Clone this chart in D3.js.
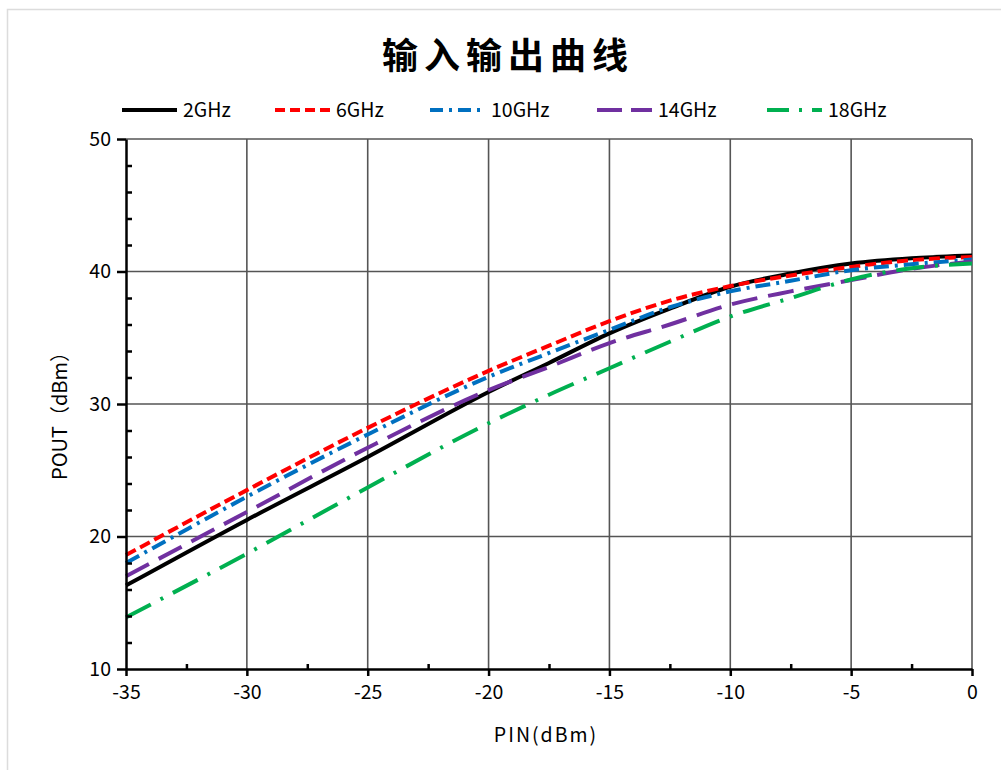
<!DOCTYPE html>
<html><head><meta charset="utf-8">
<script src="https://cdn.jsdelivr.net/npm/d3@7"></script>
<style>body{margin:0;background:#fff;} svg{display:block;}</style>
</head><body>
<svg id="c" width="1001" height="770"></svg>
<script>
const pin  = [-35,-30,-25,-20,-17.5,-15,-12.5,-10,-7.5,-5,-2.5,0];
const g2   = [16.3,21.25,26.0,30.9,33.1,35.33,37.2,38.85,39.85,40.6,41.0,41.2];
const g6   = [18.6,23.5,28.2,32.5,34.4,36.25,37.8,38.9,39.7,40.35,40.85,41.1];
const g10  = [18.0,23.0,27.7,32.05,33.85,35.6,37.3,38.5,39.3,40.1,40.55,40.9];
const g14  = [17.0,21.85,26.7,31.05,32.8,34.6,36.0,37.5,38.5,39.35,40.2,40.75];
const g18  = [13.9,18.7,23.7,28.55,30.7,32.7,34.7,36.6,38.0,39.4,40.25,40.6];
const seriesNames = ["2GHz","6GHz","10GHz","14GHz","18GHz"];
const seriesVals = [g2,g6,g10,g14,g18];
const xTicks = [-35,-30,-25,-20,-15,-10,-5,0];
const yTicks = [10,20,30,40,50];
const title = "输入输出曲线";
const xTitle = "PIN(dBm)";
const yTitle = "POUT（dBm）";

const colors = ["#000000","#ff0000","#0070c0","#7030a0","#00b050"];
const dashes = [null,"11,5","15,6,3,6","26,11","28,11,3,11"];
const legDashes = [null,"10,5","13,6,3,6","25,9","22,10,3,10"];

const svg = d3.select("#c");
const FONT = "'Noto Sans CJK SC','Noto Sans',sans-serif";
svg.append("rect").attr("x",0).attr("y",0).attr("width",1001).attr("height",770).attr("fill","#fff");
svg.append("rect").attr("x",7.5).attr("y",9.5).attr("width",1200).attr("height",1000)
  .attr("fill","none").attr("stroke","#dcdcdc").attr("stroke-width",1.5);

const L=126, R=972, T=139, B=669;
const x = d3.scaleLinear().domain([-35,0]).range([L,R]);
const y = d3.scaleLinear().domain([10,50]).range([B,T]);

// grid
const g = svg.append("g");
g.selectAll("line.vg").data(xTicks.slice(1)).join("line")
  .attr("x1",d=>x(d)).attr("x2",d=>x(d)).attr("y1",T).attr("y2",B)
  .attr("stroke","#555").attr("stroke-width",1.6);
g.selectAll("line.hg").data(yTicks.slice(1)).join("line")
  .attr("x1",L).attr("x2",R).attr("y1",d=>y(d)).attr("y2",d=>y(d))
  .attr("stroke","#555").attr("stroke-width",1.6);

// curves
const line = d3.line().curve(d3.curveMonotoneX);
seriesVals.forEach((vals,i)=>{
  const pts = pin.map((p,j)=>[x(p),y(vals[j])]);
  const path = svg.append("path").attr("d",line(pts))
    .attr("fill","none").attr("stroke",colors[i]).attr("stroke-width",4);
  if(dashes[i]) path.attr("stroke-dasharray",dashes[i]);
});

// axes
const fmt = d => String(d);
const xAxis = d3.axisBottom(x).tickValues(xTicks).tickFormat(fmt).tickSize(7).tickSizeOuter(0).tickPadding(9);
const xa = svg.append("g").attr("transform",`translate(0,${B})`).call(xAxis);
xa.select(".domain").attr("stroke","#000").attr("stroke-width",2.5);
xa.selectAll(".tick line").attr("stroke","#000").attr("stroke-width",2.5);
xa.selectAll("text").attr("font-family",FONT).attr("font-size",19.5).attr("fill","#000");
const xMinor = d3.axisTop(x).tickValues(d3.range(-32.5,0,5)).tickSize(5).tickSizeOuter(0).tickFormat("");
const xm = svg.append("g").attr("transform",`translate(0,${B})`).call(xMinor);
xm.select(".domain").remove();
xm.selectAll(".tick line").attr("stroke","#000").attr("stroke-width",2.5);

const yAxis = d3.axisLeft(y).tickValues(yTicks).tickFormat(fmt).tickSize(9).tickSizeOuter(0).tickPadding(6);
const ya = svg.append("g").attr("transform",`translate(${L},0)`).call(yAxis);
ya.select(".domain").attr("stroke","#000").attr("stroke-width",2.5);
ya.selectAll(".tick line").attr("stroke","#000").attr("stroke-width",2.5);
ya.selectAll("text").attr("font-family",FONT).attr("font-size",19.5).attr("fill","#000");
const yMinorVals = d3.range(12,50,2).filter(v=>v%10!==0);
const yMinor = d3.axisRight(y).tickValues(yMinorVals).tickSize(6).tickSizeOuter(0).tickFormat("");
const ym = svg.append("g").attr("transform",`translate(${L},0)`).call(yMinor);
ym.select(".domain").remove();
ym.selectAll(".tick line").attr("stroke","#000").attr("stroke-width",2.5);

// titles
svg.append("text").attr("x",508).attr("y",69).attr("text-anchor","middle")
  .attr("font-family",FONT).attr("font-weight","bold").attr("font-size",36)
  .attr("letter-spacing",6).attr("fill","#000").text(title);
svg.append("text").attr("x",546).attr("y",742).attr("text-anchor","middle")
  .attr("font-family",FONT).attr("font-size",19.5).attr("letter-spacing",2).attr("fill","#000").text(xTitle);
svg.append("text").attr("transform","translate(67,411) rotate(-90)").attr("text-anchor","middle")
  .attr("font-family",FONT).attr("font-size",20).attr("fill","#000").text(yTitle);

// legend
const legX = [122,275,430,597,767];
const leg = svg.append("g");
seriesNames.forEach((n,i)=>{
  const ln = leg.append("line").attr("x1",legX[i]).attr("x2",legX[i]+55).attr("y1",110).attr("y2",110)
    .attr("stroke",colors[i]).attr("stroke-width",4);
  if(legDashes[i]) ln.attr("stroke-dasharray",legDashes[i]);
  leg.append("text").attr("x",legX[i]+61).attr("y",117).attr("font-family",FONT)
    .attr("font-size",19.5).attr("fill","#000").text(n);
});
</script>
</body></html>
